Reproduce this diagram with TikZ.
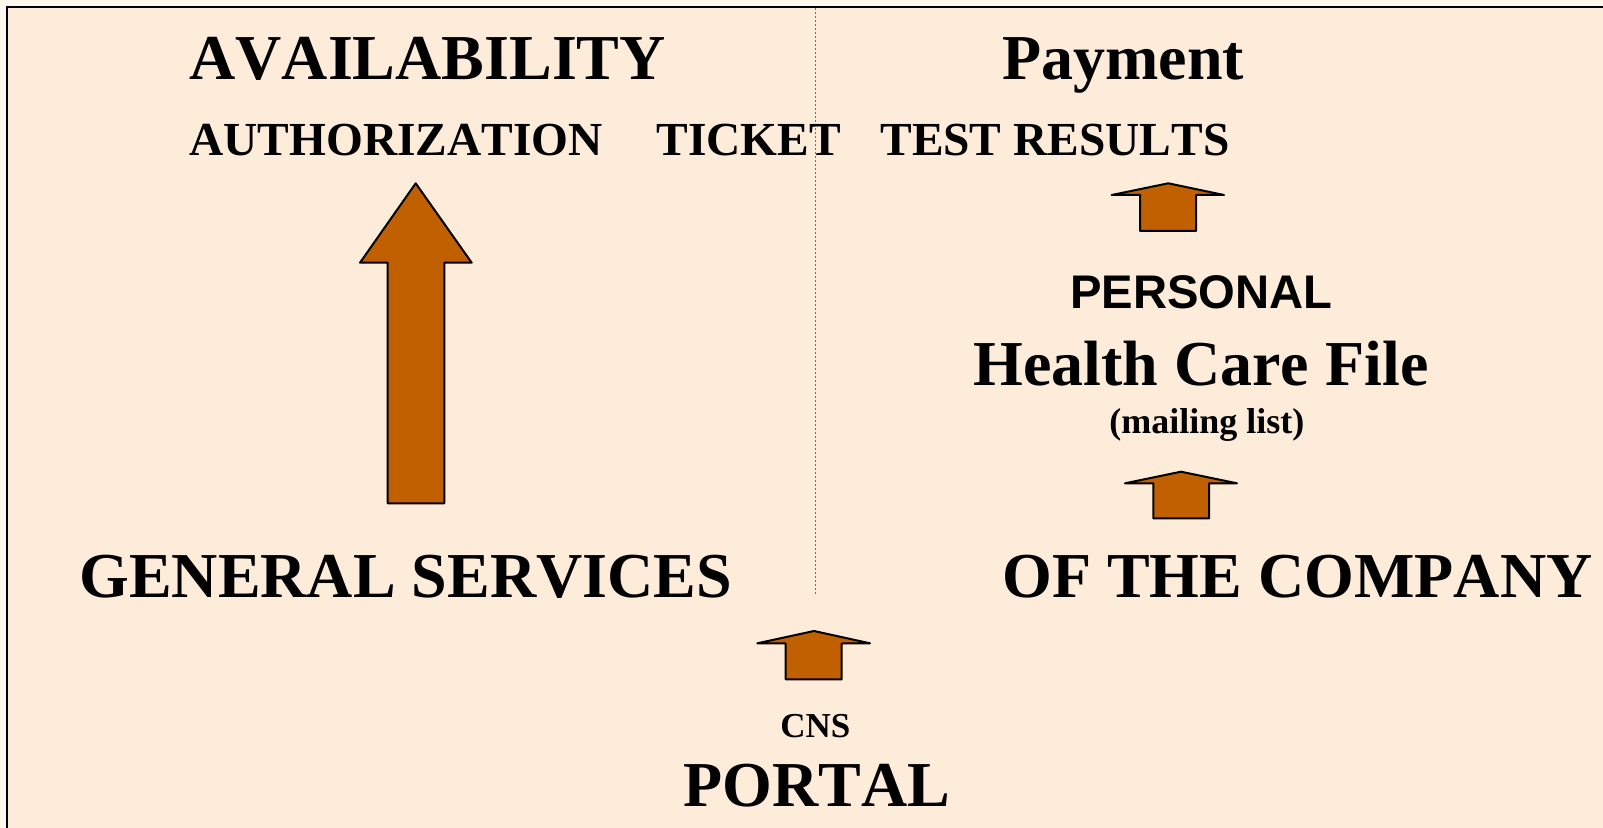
\documentclass[tikz,border=0pt]{standalone}
\usepackage{fontspec}
\setmainfont[Kerning=Off]{Liberation Serif}
\newfontfamily\arialfont[Kerning=Off]{Liberation Sans}
\definecolor{arrowbrown}{RGB}{192,96,0}
\definecolor{slidebg}{RGB}{254,236,218}
\definecolor{pagebg}{RGB}{253,247,240}

\begin{document}
\begin{tikzpicture}[x=0.5pt,y=-0.5pt,
    lbl/.style={anchor=base west,inner sep=0pt},
    huge/.style={lbl,font=\fontsize{32}{38}\selectfont\bfseries},
    mid/.style={lbl,font=\fontsize{23.7}{28}\selectfont\bfseries},
    small/.style={lbl,font=\fontsize{18}{22}\selectfont\bfseries},
    blockarrow/.style={fill=arrowbrown,draw=black,line width=1pt,line join=round}]
  \useasboundingbox (0,0) rectangle (1603,828);
  \fill[pagebg] (0,0) rectangle (1603,828);
  \fill[slidebg] (7,7) rectangle (1603,828);
  \draw[line width=1.1pt] (7,828) -- (7,7) -- (1603,7);
  \draw[arrowbrown,line width=0.5pt,dash pattern=on 1pt off 1pt] (815,8) -- (815,596);

  \node[huge] (avail) at (189,80) {AVAILABILITY};
  \node[huge] (pay) at (1002,80) {Payment};
  \node[mid] (auth) at (189,156) {AUTHORIZATION};
  \node[mid] (ticket) at (656,156) {TICKET};
  \node[mid] (test) at (880,156) {TEST RESULTS};
  \node[lbl,font=\arialfont\fontsize{23.6}{28}\selectfont\bfseries] (pers) at (1070,309) {PERSONAL};
  \node[huge] (file) at (973,386) {Health Care File};
  \node[small] (mail) at (1109,434) {(mailing list)};
  \node[huge] (gen) at (79,598) {GENERAL SERVICES};
  \node[huge] (comp) at (1002,598) {OF THE COMPANY};
  \node[lbl,font=\fontsize{17.5}{21}\selectfont\bfseries] (cns) at (780,738) {CNS};
  \node[huge] (portal) at (683,806) {PORTAL};

  \draw[blockarrow] (415.7,183.3) -- (471.7,262.7) -- (444.3,262.7) -- (444.3,503.3)
    -- (387.7,503.3) -- (387.7,262.7) -- (360,262.7) -- cycle;
  \draw[blockarrow] (1168.3,183.3) -- (1224,195) -- (1196,195) -- (1196,231)
    -- (1140,231) -- (1140,195) -- (1111.7,195) -- cycle;
  \draw[blockarrow] (1181,471.7) -- (1237,483.3) -- (1209,483.3) -- (1209,518.5)
    -- (1153.3,518.5) -- (1153.3,483.3) -- (1125,483.3) -- cycle;
  \draw[blockarrow] (814,631) -- (870,643.3) -- (841.7,643.3) -- (841.7,679.3)
    -- (785.7,679.3) -- (785.7,643.3) -- (757.3,643.3) -- cycle;
\end{tikzpicture}
\end{document}
